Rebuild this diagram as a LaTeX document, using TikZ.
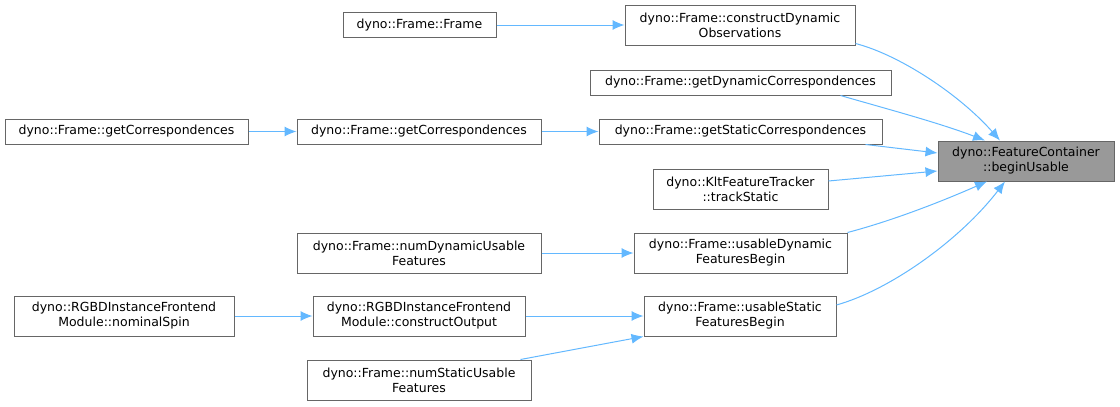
\documentclass[tikz,border=0pt]{standalone}
\usepackage{fontspec}
\setmainfont{DejaVu Sans}
\usepackage{xcolor}
\usepackage{tikz}
\usetikzlibrary{arrows.meta}
\definecolor{edgeblue}{HTML}{63B8FF}
\definecolor{boxgray}{HTML}{666666}
\definecolor{hlgray}{HTML}{999999}

\begin{document}
\begin{tikzpicture}[x=1pt, y=-1pt,
  fn/.style={draw=boxgray, line width=1pt, inner sep=0pt, align=center,
    minimum height=40pt, font=\fontsize{12.5}{15}\selectfont},
  fnone/.style={fn, minimum height=25pt},
  hl/.style={fn, fill=hlgray},
  call/.style={edgeblue, line width=1pt, -{Latex[length=12pt, width=10pt]}}]
\useasboundingbox (0,0) rectangle (1120,407);
% target and its callers
\node[hl, minimum width=176pt] (beginUsable) at (1026,161) {dyno::FeatureContainer\\::beginUsable};
\node[fn, minimum width=230pt] (constructDyn) at (740,25) {dyno::Frame::constructDynamic\\Observations};
\node[fnone, minimum width=301pt] (getDynCorr) at (740.5,82.5) {dyno::Frame::getDynamicCorrespondences};
\node[fnone, minimum width=283pt] (getStaticCorr) at (740.5,131.5) {dyno::Frame::getStaticCorrespondences};
\node[fn, minimum width=175pt] (trackStatic) at (740.5,189) {dyno::KltFeatureTracker\\::trackStatic};
\node[fn, minimum width=213pt] (usableDyn) at (740.5,253) {dyno::Frame::usableDynamic\\FeaturesBegin};
\node[fn, minimum width=192pt] (usableStatic) at (740,316) {dyno::Frame::usableStatic\\FeaturesBegin};
% second level
\node[fnone, minimum width=153pt] (frameCtor) at (419.5,25) {dyno::Frame::Frame};
\node[fnone, minimum width=244pt] (getCorrB) at (419,131.5) {dyno::Frame::getCorrespondences};
\node[fn, minimum width=244pt] (numDynUsable) at (419,253) {dyno::Frame::numDynamicUsable\\Features};
\node[fn, minimum width=212pt] (constructOut) at (419,316) {dyno::RGBDInstanceFrontend\\Module::constructOutput};
\node[fn, minimum width=224pt] (numStaticUsable) at (419,380) {dyno::Frame::numStaticUsable\\Features};
% third level
\node[fnone, minimum width=243pt] (getCorrA) at (126.5,131.5) {dyno::Frame::getCorrespondences};
\node[fn, minimum width=220pt] (nominalSpin) at (124,316) {dyno::RGBDInstanceFrontend\\Module::nominalSpin};

\draw[call] ([yshift=2pt]constructDyn.south east) .. controls (900,55) and (960,95) .. ([xshift=-26pt]beginUsable.north);
\draw[call] ([xshift=-51pt]getDynCorr.south east) .. controls (880,107) and (940,123) .. ([xshift=-41pt]beginUsable.north);
\draw[call] ([xshift=-17pt]getStaticCorr.south east) -- ([yshift=8pt]beginUsable.west);
\draw[call] ([yshift=8pt]trackStatic.east) -- ([yshift=-10pt]beginUsable.west);
\draw[call] (usableDyn.north east) .. controls (895,220) and (945,200) .. ([xshift=-39pt]beginUsable.south);
\draw[call] ([yshift=11pt]usableStatic.east) .. controls (890,290) and (960,240) .. ([xshift=-21pt]beginUsable.south);
\draw[call] (frameCtor) -- (constructDyn);
\draw[call] (getCorrB) -- (getStaticCorr);
\draw[call] (getCorrA) -- (getCorrB);
\draw[call] (numDynUsable) -- (usableDyn);
\draw[call] (constructOut) -- (usableStatic);
\draw[call] ([xshift=-11pt]numStaticUsable.north east) -- (usableStatic.south west);
\draw[call] (nominalSpin) -- (constructOut);
\end{tikzpicture}
\end{document}
